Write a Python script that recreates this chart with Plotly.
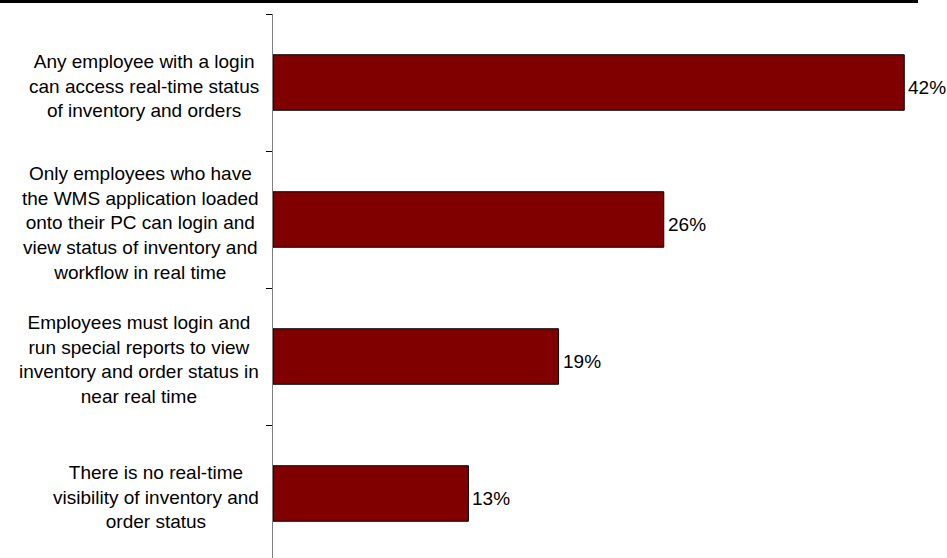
import plotly.graph_objects as go

# Survey responses: who can see inventory / order status in real time
categories = [
    "Any employee with a login<br>can access real-time status<br>of inventory and orders",
    "Only employees who have<br>the WMS application loaded<br>onto their PC can login and<br>view status of inventory and<br>workflow in real time",
    "Employees must login and<br>run special reports to view<br>inventory and order status in<br>near real time",
    "There is no real-time<br>visibility of inventory and<br>order status",
]
shares = [42, 26, 19, 13]
share_labels = ["42%", "26%", "19%", "13%"]

W, H = 947, 558
ML, MT, MR, MB = 273, 14, 0, 0
plot_w = W - ML - MR
plot_h = H - MT - MB

FONT = "Liberation Sans, Arial, sans-serif"
keys = [f"c{i}" for i in range(len(categories))]

fig = go.Figure(
    go.Bar(
        x=shares,
        y=keys,
        orientation="h",
        width=0.405,
        marker=dict(color="#800000", line=dict(color="#000000", width=1)),
        hoverinfo="skip",
    )
)

# category labels, centred multi-line text to the left of the axis
for k, label in zip(keys, categories):
    fig.add_annotation(
        x=0, xref="paper", y=k, yref="y",
        text=label, showarrow=False,
        xanchor="right", yanchor="middle", align="center",
        xshift=-12, yshift=-3,
        font=dict(family=FONT, size=19, color="#000000"),
    )

# value labels just past the end of each bar
for k, v, lab in zip(keys, shares, share_labels):
    fig.add_annotation(
        x=v, xref="x", y=k, yref="y",
        text=lab, showarrow=False,
        xanchor="left", yanchor="middle",
        xshift=2, yshift=-5,
        font=dict(family=FONT, size=19, color="#000000"),
    )

# heavy rule across the top of the page
fig.add_shape(
    type="rect", xref="paper", yref="paper",
    x0=-ML / plot_w, x1=(918 - ML) / plot_w,
    y0=(H - MB - 3) / plot_h, y1=(H - MB) / plot_h,
    fillcolor="#000000", line=dict(width=0),
)

fig.update_layout(
    width=W, height=H,
    margin=dict(l=ML, r=MR, t=MT, b=MB, autoexpand=False),
    paper_bgcolor="#ffffff", plot_bgcolor="#ffffff",
    showlegend=False,
    bargap=0.6,
    xaxis=dict(
        range=[0, plot_w / 15.03],
        showgrid=False, zeroline=False, showline=False,
        showticklabels=False, ticks="", fixedrange=True,
    ),
    yaxis=dict(
        type="category",
        categoryorder="array", categoryarray=keys,
        range=[-0.5 + plot_h / 137.0, -0.5],
        showgrid=False, zeroline=False,
        showline=True, linecolor="#808080", linewidth=1,
        ticks="outside", tickson="boundaries", ticklen=6,
        tickcolor="#000000", tickwidth=1,
        showticklabels=False, fixedrange=True,
    ),
)

fig.write_html("out.html")
